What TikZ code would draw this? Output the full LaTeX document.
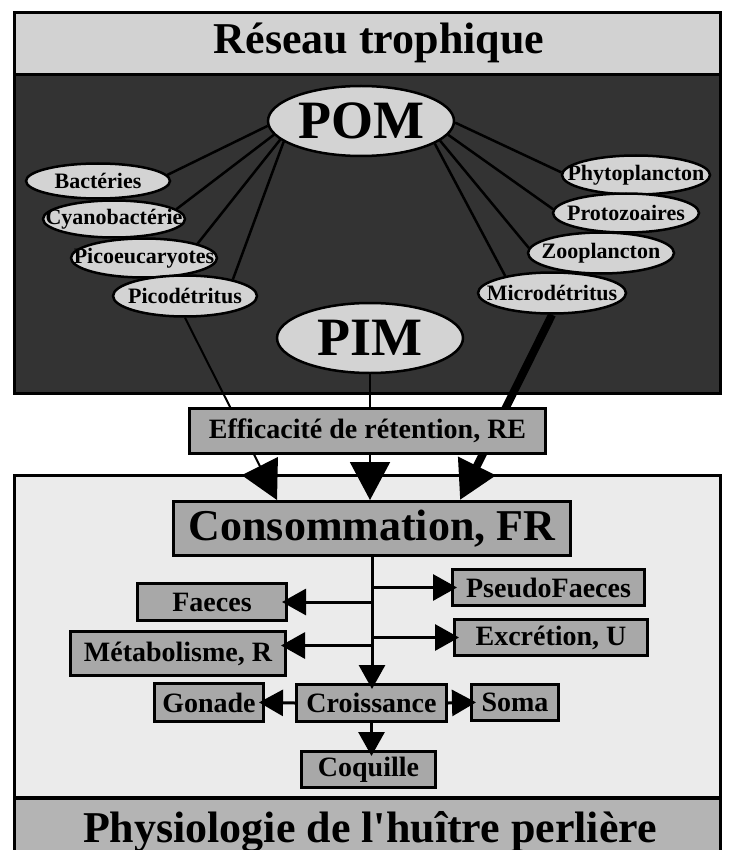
\documentclass[tikz,border=0pt]{standalone}
\usepackage{fontspec}
\setmainfont{Liberation Serif}[Ligatures=TeXOff]
\usetikzlibrary{shapes.geometric,arrows.meta,calc}
\pgfdeclarelayer{bg}
\pgfdeclarelayer{lines}
\pgfsetlayers{bg,lines,main}
\definecolor{titlefill}{HTML}{D2D2D2}
\definecolor{darkfill}{HTML}{333333}
\definecolor{ellfill}{HTML}{D3D3D3}
\definecolor{boxfill}{HTML}{A8A8A8}
\definecolor{lowfill}{HTML}{EBEBEB}
\definecolor{bandfill}{HTML}{B4B4B4}
\begin{document}
\begin{tikzpicture}[x=1pt,y=-1pt,
  ell/.style={ellipse,draw=black,line width=2.5pt,fill=ellfill,inner sep=0pt},
  smalltxt/.style={font=\bfseries\fontsize{22}{24}\selectfont},
  bigtxt/.style={font=\bfseries\fontsize{54}{58}\selectfont},
  boxnode/.style={rectangle,draw=black,line width=3pt,fill=boxfill,inner sep=0pt,font=\bfseries\fontsize{28}{30}\selectfont},
  ttl/.style={font=\bfseries\fontsize{44}{48}\selectfont},
  link/.style={line width=2.5pt,draw=black},
  feed/.style={draw=black,-{Triangle[length=38pt,width=40pt]}},
  flow/.style={draw=black,line width=3pt,shorten >=-6pt,-{Triangle[length=24pt,width=26pt]}},
]
\useasboundingbox (0,0) rectangle (728,850);

% panels
\begin{pgfonlayer}{bg}
\fill[white] (0,0) rectangle (728,850);
\fill[titlefill] (14,13) rectangle (720,75);
\fill[darkfill] (14,75) rectangle (720,393);
\draw[line width=3pt] (14,13) rectangle (720,393);
\draw[line width=3pt] (14,75) -- (720,75);
\fill[lowfill] (14,475) rectangle (720,798);
\fill[bandfill] (14,798) rectangle (720,852);
\draw[line width=3pt] (14,852) -- (14,475) -- (720,475) -- (720,852);
\draw[line width=3.5pt] (14,798) -- (720,798);
\end{pgfonlayer}

% titles
\node[ttl,anchor=base] (ttop) at (379,54) {Réseau trophique};
\node[ttl,anchor=base] (tbot) at (370,842) {Physiologie de l'huître perlière};

% ellipses
\node[ell,bigtxt,minimum width=186pt,minimum height=70pt] (pom) at (361,121) {\makebox[0pt]{POM}};
\node[ell,bigtxt,minimum width=186pt,minimum height=70pt] (pim) at (370,338) {\makebox[0pt]{PIM}};

\node[ell,smalltxt,minimum width=144pt,minimum height=35pt] (bact) at (98,181) {\makebox[0pt]{Bactéries}};
\node[ell,smalltxt,minimum width=142pt,minimum height=37pt] (cyano) at (114,219) {\makebox[0pt]{Cyanobactérie}};
\node[ell,smalltxt,minimum width=146pt,minimum height=39pt] (picoeu) at (144,258) {\makebox[0pt]{Picoeucaryotes}};
\node[ell,smalltxt,minimum width=144pt,minimum height=41pt] (picodet) at (185,296) {\makebox[0pt]{Picodétritus}};

\node[ell,smalltxt,minimum width=148pt,minimum height=39pt] (phyto) at (636,175) {\makebox[0pt]{Phytoplancton}};
\node[ell,smalltxt,minimum width=146pt,minimum height=39pt] (proto) at (626,213) {\makebox[0pt]{Protozoaires}};
\node[ell,smalltxt,minimum width=146pt,minimum height=41pt] (zoo) at (601,253) {\makebox[0pt]{Zooplancton}};
\node[ell,smalltxt,minimum width=148pt,minimum height=41pt] (micro) at (552,293) {\makebox[0pt]{Microdétritus}};

% boxes
\node[boxnode,minimum width=356pt,minimum height=45pt] (eff) at (367.5,431) {Efficacité de rétention, RE};
\node[boxnode,font=\bfseries\fontsize{44}{48}\selectfont,minimum width=397pt,minimum height=54pt] (cons) at (372,528.5) {Consommation, FR};
\node[boxnode,minimum width=149pt,minimum height=37pt] (fae) at (212,602) {Faeces};
\node[boxnode,minimum width=192pt,minimum height=36pt] (pf) at (548.5,587.5) {PseudoFaeces};
\node[boxnode,minimum width=193pt,minimum height=36pt] (exc) at (551,637.5) {Excrétion, U};
\node[boxnode,minimum width=215pt,minimum height=44pt] (met) at (178,653.5) {Métabolisme, R};
\node[boxnode,minimum width=109pt,minimum height=38pt] (gon) at (209,702.5) {Gonade};
\node[boxnode,minimum width=150pt,minimum height=37pt] (cro) at (371.5,703) {Croissance};
\node[boxnode,minimum width=87pt,minimum height=36pt] (soma) at (515,702.5) {Soma};
\node[boxnode,minimum width=134pt,minimum height=36pt] (coq) at (368.5,769.5) {Coquille};

% links in the food web
\begin{pgfonlayer}{lines}
\draw[link] (pom.183) -- (bact.5);
\draw[link] (pom.189) -- (cyano.9);
\draw[link] (pom.193) -- (picoeu.15);
\draw[link] (pom.195) -- (picodet.19);
\draw[link] (pom.359) -- (phyto.178);
\draw[link] (pom.351) -- (proto.177);
\draw[link] (pom.346) -- (zoo.176);
\draw[link] (pom.343) -- (micro.160);
\draw[feed,line width=2pt] (picodet.south) -- ($(cons.north)+(-95,0)$);
\draw[feed,line width=2pt] (pim.south) -- (pim.south |- cons.north);
\draw[feed,line width=8pt] (micro.south) -- ($(cons.north)+(88,0)$);
\end{pgfonlayer}

% physiology flows
\draw[flow] (cons.south) -- (cons.south |- cro.north);
\draw[flow] (cons.south |- pf.west) -- (pf.west);
\draw[flow] (cons.south |- fae.east) -- (fae.east);
\draw[flow] (cons.south |- exc.west) -- (exc.west);
\draw[flow] ($(cons.south |- met.east)+(0,-8)$) -- ($(met.east)+(0,-8)$);
\draw[flow] (cro.west) -- (gon.east);
\draw[flow] (cro.east) -- (soma.west);
\draw[flow] (cro.south) -- (cro.south |- coq.north);
\end{tikzpicture}
\end{document}
